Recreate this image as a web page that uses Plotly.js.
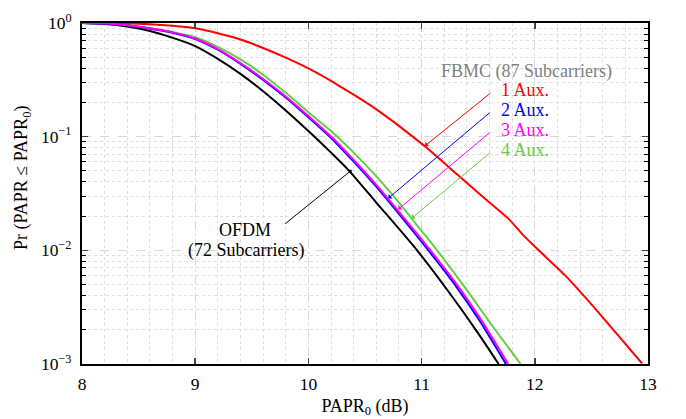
<!DOCTYPE html>
<html>
<head>
<meta charset="utf-8">
<script src="https://cdn.plot.ly/plotly-3.0.1.min.js"></script>
<style>html,body{margin:0;padding:0;background:#fff;}#chart{width:686px;height:419px;}</style>
</head>
<body>
<div id="chart"></div>
<script>
// OFDM (72 subcarriers)
const ofdmX = [8.0, 8.2, 8.4, 8.6, 8.8, 9.0, 9.2, 9.4, 9.6, 9.8, 10.0, 10.2, 10.35, 10.6, 10.96, 11.25, 11.5, 11.68];
const ofdmY = [1, 0.982, 0.933, 0.851, 0.741, 0.627, 0.484, 0.357, 0.251, 0.170, 0.112, 0.0724, 0.0513, 0.0263, 0.0100, 0.00417, 0.00186, 0.00100];
// FBMC (87 subcarriers), 1 Aux.
const aux1X = [8.0, 8.2, 8.4, 8.6, 8.8, 9.0, 9.2, 9.4, 9.6, 9.8, 10.0, 10.2, 10.4, 10.6, 10.8, 10.915, 11.03, 11.3, 11.574, 11.765, 11.898, 12.03, 12.266, 12.545, 12.948];
const aux1Y = [1, 0.998, 0.993, 0.977, 0.946, 0.899, 0.813, 0.716, 0.603, 0.495, 0.398, 0.309, 0.234, 0.174, 0.1245, 0.1012, 0.0822, 0.0479, 0.0277, 0.0191, 0.0136, 0.0101, 0.00605, 0.00298, 0.00101];
// 2 Aux.
const aux2X = [8.0, 8.2, 8.4, 8.6, 8.8, 9.0, 9.2, 9.4, 9.6, 9.8, 10.0, 10.21, 10.4, 10.6, 10.8, 11.06, 11.3, 11.5, 11.745];
const aux2Y = [1, 0.989, 0.955, 0.891, 0.822, 0.724, 0.582, 0.437, 0.316, 0.221, 0.148, 0.0955, 0.0603, 0.0363, 0.0209, 0.0100, 0.00490, 0.00251, 0.00100];
// 3 Aux.
const aux3X = [8.0, 8.2, 8.4, 8.6, 8.8, 9.0, 9.2, 9.4, 9.6, 9.8, 10.0, 10.21, 10.4, 10.6, 10.8, 11.06, 11.3, 11.5, 11.765];
const aux3Y = [1, 0.990, 0.957, 0.895, 0.827, 0.731, 0.590, 0.444, 0.322, 0.226, 0.152, 0.0984, 0.0624, 0.0377, 0.0218, 0.0105, 0.00518, 0.00268, 0.00100];
// 4 Aux.
const aux4X = [8.0, 8.2, 8.4, 8.6, 8.8, 9.0, 9.2, 9.4, 9.6, 9.8, 10.0, 10.2, 10.4, 10.6, 10.8, 11.0, 11.13, 11.4, 11.6, 11.875];
const aux4Y = [1, 0.991, 0.962, 0.902, 0.832, 0.750, 0.617, 0.479, 0.351, 0.243, 0.164, 0.112, 0.0724, 0.0447, 0.0263, 0.0148, 0.0102, 0.00447, 0.00234, 0.00100];

const yTickVals = [0.001, 0.01, 0.1, 1];
const yTickText = ['10<sup>−3</sup>', '10<sup>−2</sup>', '10<sup>−1</sup>', '10<sup>0</sup>'];
const xTickVals = [8, 9, 10, 11, 12, 13];

const FONT = 'Liberation Serif, Times New Roman, serif';
const yMinor = [];
for (let d = -3; d < 0; d++) for (let k = 2; k <= 9; k++) yMinor.push(k * Math.pow(10, d));

function tr(x, y, color, smoothing) {
  return {x: x, y: y, type: 'scatter', mode: 'lines',
    line: {color: color, width: 2, shape: 'spline', smoothing: smoothing}, hoverinfo: 'skip'};
}
const data = [
  tr(aux4X, aux4Y, '#66cc44', 0.8),
  tr(aux1X, aux1Y, '#ff0000', 0.4),
  tr(ofdmX, ofdmY, '#000000', 0.8),
  tr(aux2X, aux2Y, '#0000ff', 0.8),
  tr(aux3X, aux3Y, '#ff00ff', 0.8)
];

function arrow(x, ly, ax, ay, color) {
  return {x: x, y: ly, xref: 'x', yref: 'y', text: '', showarrow: true,
    ax: ax, ay: ay, arrowhead: 1, arrowsize: 1, arrowwidth: 1, arrowcolor: color, standoff: 0};
}
function label(px, py, text, color, anchor, angle) {
  return {xref: 'paper', yref: 'paper', x: (px - 82) / 566, y: (364 - py) / 341,
    text: text, showarrow: false, xanchor: anchor || 'center', yanchor: 'middle',
    textangle: angle || 0,
    font: {family: FONT, size: 18, color: color}};
}

const layout = {
  width: 686, height: 419,
  margin: {l: 82, r: 38, t: 23, b: 55},
  paper_bgcolor: '#fff', plot_bgcolor: '#fff',
  showlegend: false,
  font: {family: FONT, size: 17.5, color: '#000'},
  xaxis: {
    range: [8, 13], tickvals: xTickVals, ticks: 'inside', ticklen: 6, tickwidth: 1.5,
    showline: true, linewidth: 2, linecolor: '#000', mirror: 'ticks',
    showgrid: true, gridcolor: '#d8d8d8', griddash: 'dash', gridwidth: 1,
    zeroline: false, ticklabelstandoff: 3,
    minor: {dtick: 0.2, showgrid: true, gridcolor: '#dedede', griddash: 'dot', gridwidth: 1, ticks: ''},
    title: {text: 'PAPR<sub>0</sub> (dB)', font: {family: FONT, size: 18}, standoff: 6}
  },
  yaxis: {
    type: 'log', range: [-3, 0], tickvals: yTickVals, ticktext: yTickText,
    ticks: 'inside', ticklen: 6, tickwidth: 1.5,
    showline: true, linewidth: 2, linecolor: '#000', mirror: 'ticks',
    showgrid: true, gridcolor: '#d8d8d8', griddash: 'dash', gridwidth: 1,
    zeroline: false, ticklabelstandoff: 5,
    minor: {tickvals: yMinor, ticks: 'inside', ticklen: 4, tickwidth: 1, tickcolor: '#000',
      showgrid: true, gridcolor: '#dedede', griddash: 'dot', gridwidth: 1}
  },
  annotations: [
    arrow(10.383, -1.293, -68, 55, '#000'),
    arrow(11.030, -1.081, 67, -54, '#ff0000'),
    arrow(10.706, -1.542, 103, -87, '#0000ff'),
    arrow(10.794, -1.639, 93, -78, '#ff00ff'),
    arrow(10.913, -1.718, 80, -67, '#66cc44'),
    label(526.5, 71.7, 'FBMC (87 Subcarriers)', '#808080'),
    label(499, 90, '1 Aux.', '#ff0000', 'left'),
    label(499, 110, '2 Aux.', '#0000ff', 'left'),
    label(499, 130, '3 Aux.', '#ff00ff', 'left'),
    label(499, 150, '4 Aux.', '#66cc44', 'left'),
    label(245, 230, 'OFDM', '#000'),
    label(245.5, 250, '(72 Subcarriers)', '#000'),
    label(22, 178, 'Pr (PAPR ≤ PAPR<sub>0</sub>)', '#000', 'center', -90)
  ]
};
Plotly.newPlot('chart', data, layout, {displayModeBar: false, staticPlot: true});
</script>
</body>
</html>
